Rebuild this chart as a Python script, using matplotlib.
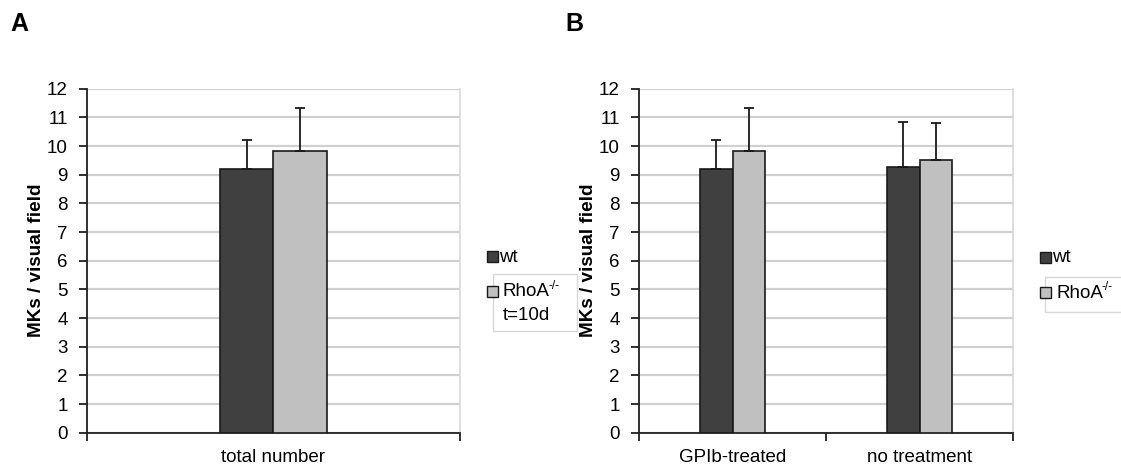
import matplotlib.pyplot as plt
from matplotlib.patches import Rectangle

plt.rcParams['font.family'] = ['Liberation Sans', 'DejaVu Sans']
plt.rcParams['font.size'] = 13.5

# MKs per visual field, mean and upper error
groups_a = ['total number']
wt_a = [9.21]
ko_a = [9.84]
wt_a_err = [1.01]
ko_a_err = [1.49]

groups_b = ['GPIb-treated', 'no treatment']
wt_b = [9.21, 9.27]
ko_b = [9.84, 9.51]
wt_b_err = [1.01, 1.56]
ko_b_err = [1.47, 1.29]

yticks = list(range(0, 13))

W, H = 1121, 465
fig = plt.figure(figsize=(W / 100, H / 100), dpi=100)

def box(x0, x1, y0, y1):
    # pixel box -> figure fraction [left, bottom, width, height]
    return [x0 / W, 1 - y1 / H, (x1 - x0) / W, (y1 - y0) / H]

dark = '#404040'
light = '#c0c0c0'
edge = '#1a1a1a'


def panel(ax, groups, wt, ko, wt_err, ko_err, width):
    x = list(range(len(groups)))
    xw = [i - width / 2 for i in x]
    xk = [i + width / 2 for i in x]
    ax.bar(xw, wt, width, color=dark, edgecolor=edge, linewidth=1.2, zorder=3)
    ax.bar(xk, ko, width, color=light, edgecolor=edge, linewidth=1.2, zorder=3)
    ax.errorbar(xw, wt, yerr=[[0] * len(wt), wt_err], fmt='none', ecolor=edge,
                elinewidth=1.3, capsize=3.3, capthick=1.3, zorder=4)
    ax.errorbar(xk, ko, yerr=[[0] * len(ko), ko_err], fmt='none', ecolor=edge,
                elinewidth=1.3, capsize=3.3, capthick=1.3, zorder=4)
    ax.set_xlim(-0.5, len(groups) - 0.5)
    ax.set_ylim(0, 12)
    ax.set_yticks(yticks)
    ax.yaxis.grid(True, color='#d0d0d0', linewidth=1.6, zorder=0)
    ax.set_axisbelow(True)
    # category boundaries as major ticks, names on minor ticks
    ax.set_xticks([i - 0.5 for i in range(len(groups) + 1)])
    ax.set_xticklabels([])
    ax.set_xticks(x, minor=True)
    ax.set_xticklabels(groups, minor=True)
    ax.tick_params(axis='x', which='major', direction='out', length=6, width=1.3, color='#202020')
    ax.tick_params(axis='x', which='minor', length=0, pad=12)
    ax.tick_params(axis='y', direction='out', length=6, width=1.3, color='#202020', pad=8)
    ax.spines['top'].set_visible(False)
    ax.spines['right'].set_color('#d8d8d8')
    ax.spines['right'].set_linewidth(1.2)
    ax.spines['left'].set_color('#202020')
    ax.spines['bottom'].set_color('#202020')
    ax.spines['left'].set_linewidth(1.3)
    ax.spines['bottom'].set_linewidth(1.3)
    ax.set_ylabel('MKs / visual field', fontweight='bold', fontsize=13.6, labelpad=1)


ax_a = fig.add_axes(box(87, 460, 88.7, 432.7))
panel(ax_a, groups_a, wt_a, ko_a, wt_a_err, ko_a_err, 0.143)
ax_b = fig.add_axes(box(639, 1013, 88.7, 432.7))
panel(ax_b, groups_b, wt_b, ko_b, wt_b_err, ko_b_err, 0.174)

fig.text(10 / W, 1 - 24 / H, 'A', fontweight='bold', fontsize=18, va='center')
fig.text(565 / W, 1 - 24 / H, 'B', fontweight='bold', fontsize=18, va='center')


def fx(x, y):
    return x / W, 1 - y / H


renderer = fig.canvas.get_renderer()


def legend(x_sq, y_wt, y_ko, frame, extra=None):
    fig.add_artist(Rectangle(fx(frame[0], frame[3]), (frame[1] - frame[0]) / W,
                             (frame[3] - frame[2]) / H, transform=fig.transFigure,
                             facecolor='none', edgecolor='#d8d8d8', linewidth=1, zorder=-1))
    for y, c in [(y_wt, dark), (y_ko, light)]:
        fig.add_artist(Rectangle(fx(x_sq, y + 5.5), 11 / W, 11 / H, transform=fig.transFigure,
                                 facecolor=c, edgecolor=edge, linewidth=1))
    fig.text(*fx(x_sq + 12, y_wt + 1), 'wt', va='center', ha='left')
    t = fig.text(*fx(x_sq + 16, y_ko + 1), 'RhoA', va='center', ha='left')
    w = t.get_window_extent(renderer).width
    fig.text(*fx(x_sq + 15 + w, y_ko - 5), '-/-', va='center', ha='left', fontsize=8.5)
    if extra:
        fig.text(*fx(x_sq + 16, y_ko + 24), extra, va='center', ha='left')


legend(487, 256, 291, (493, 577, 274, 331), 't=10d')
legend(1040, 257, 292, (1045, 1130, 277, 312))

fig.savefig('out.png', dpi=100)
